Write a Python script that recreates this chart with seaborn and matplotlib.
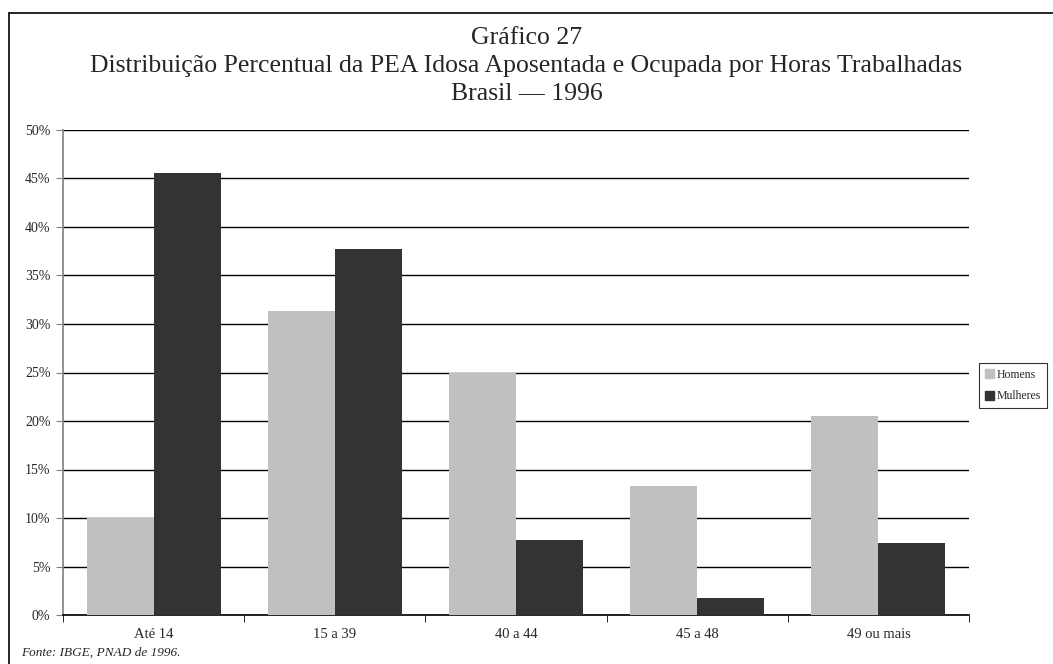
import matplotlib
matplotlib.use("Agg")
import matplotlib.pyplot as plt
import pandas as pd
import seaborn as sns
from matplotlib.lines import Line2D
from matplotlib.patches import Rectangle
from matplotlib.ticker import FixedLocator, FuncFormatter

# data
categories = ["Até 14", "15 a 39", "40 a 44", "45 a 48", "49 ou mais"]
homens = [10.0, 31.3, 25.0, 13.3, 20.5]
mulheres = [45.6, 37.7, 7.7, 1.75, 7.4]
series = ["Homens", "Mulheres"]
colors = ["#c0c0c0", "#333333"]

df = pd.DataFrame(
    {
        "faixa": categories * 2,
        "valor": homens + mulheres,
        "sexo": [series[0]] * 5 + [series[1]] * 5,
    }
)

sns.set_style("white")
plt.rcParams["font.family"] = ["Liberation Serif", "DejaVu Serif"]

W, H = 1053, 664
fig = plt.figure(figsize=(W / 100, H / 100), dpi=100)
ax = fig.add_axes([63 / W, 1 - 615 / H, 906 / W, 485 / H])

sns.barplot(
    data=df,
    x="faixa",
    y="valor",
    hue="sexo",
    palette=colors,
    width=0.74,
    saturation=1,
    ax=ax,
    legend=False,
    zorder=3,
)
for p in ax.patches:
    p.set_edgecolor("none")

ax.set_ylim(0, 50)
ax.set_xlim(-0.5, 4.5)
ax.set_yticks(range(0, 51, 5))
ax.yaxis.set_major_formatter(FuncFormatter(lambda v, _: f"{v:.0f}%"))
ax.yaxis.grid(True, color="black", linewidth=1.0, zorder=0)
ax.set_axisbelow(True)
ax.tick_params(axis="y", labelsize=10, length=5, left=True, direction="out",
               color="#808080", pad=4)
ax.tick_params(axis="x", which="major", labelsize=10.5, length=0, pad=9)
ax.xaxis.set_minor_locator(FixedLocator([i - 0.5 for i in range(6)]))
ax.tick_params(axis="x", which="minor", length=5, bottom=True, direction="out", color="black")
ax.set_xlabel("")
ax.set_ylabel("")

for s in ["top", "right"]:
    ax.spines[s].set_visible(False)
ax.spines["left"].set_color("#808080")
ax.spines["left"].set_linewidth(1.2)
ax.spines["bottom"].set_color("black")
ax.spines["bottom"].set_linewidth(1.2)

title_lines = [
    "Gráfico 27",
    "Distribuição Percentual da PEA Idosa Aposentada e Ocupada por Horas Trabalhadas",
    "Brasil — 1996",
]
for line, base in zip(title_lines, [44, 72, 100]):
    fig.text(0.5, 1 - base / H, line, ha="center", va="baseline", fontsize=18.5)

fig.text(21 / W, 1 - 656 / H, "Fonte: IBGE, PNAD de 1996.", fontsize=9.5,
         style="italic", va="baseline")

handles = [Rectangle((0, 0), 1, 1, color=c) for c in colors]
leg = fig.legend(
    handles, series,
    loc="upper left",
    bbox_to_anchor=(979 / W, 1 - 363 / H),
    fontsize=8.5,
    frameon=True,
    fancybox=False,
    edgecolor="black",
    handlelength=0.8,
    handleheight=0.8,
    handletextpad=0.2,
    borderpad=0.5,
    borderaxespad=0,
    labelspacing=0.8,
)
leg.get_frame().set_linewidth(0.8)

# frame lines (top and left visible in the original)
fig.lines.append(Line2D([9 / W, 1], [1 - 13 / H, 1 - 13 / H], transform=fig.transFigure,
                        color="black", linewidth=1.2))
fig.lines.append(Line2D([9 / W, 9 / W], [0, 1 - 13 / H], transform=fig.transFigure,
                        color="black", linewidth=1.2))

fig.savefig("out.png", dpi=100)
